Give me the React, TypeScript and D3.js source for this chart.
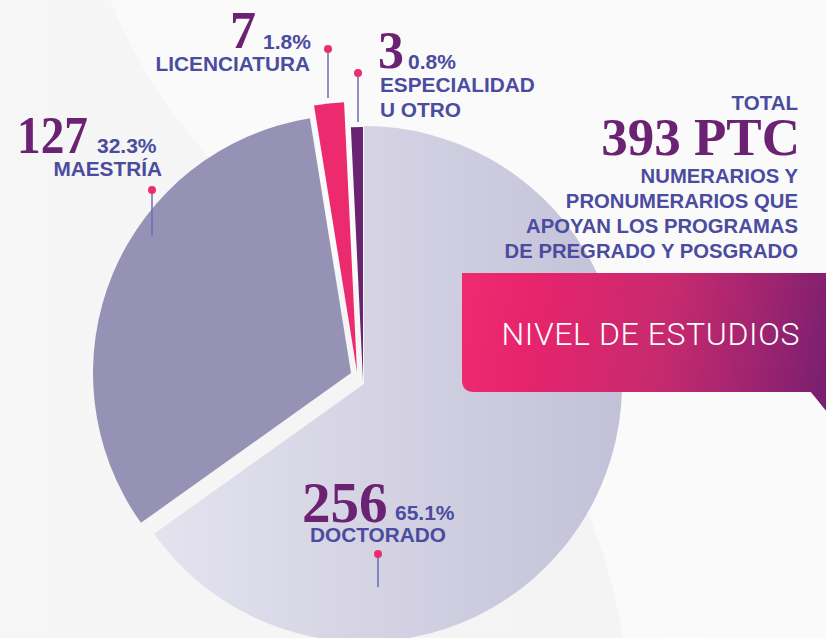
import React from "react";
import * as d3 from "d3";

// ---- data ----
const categories = ["DOCTORADO", "MAESTRÍA", "LICENCIATURA", "ESPECIALIDAD U OTRO"];
const counts = [256, 127, 7, 3];
const percentLabels = ["65.1%", "32.3%", "1.8%", "0.8%"];
const labelLines = [["DOCTORADO"], ["MAESTRÍA"], ["LICENCIATURA"], ["ESPECIALIDAD", "U OTRO"]];
const totalValue = 393;
const totalUnit = "PTC";
const subtitleLines = ["NUMERARIOS Y", "PRONUMERARIOS QUE", "APOYAN LOS PROGRAMAS", "DE PREGRADO Y POSGRADO"];
const titleText = "NIVEL DE ESTUDIOS";

// ---- styles / layout ----
const W = 826;
const H = 638;
const CX = 364;
const CY = 384;
const sliceFills = ["url(#docGrad)", "#9592b6", "#ec2b6e", "#6a2371"];
const sliceOffsets = [
  [0, 0],
  [-13, -11],
  [-7, -12],
  [-1, -4],
];
const sliceRadii = [258, 258, 270, 253];
const NUM = "#6b2272";
const LAB = "#4b4c9f";
const PIN = "#6d6db2";
const DOT = "#ea2d6f";
const SANS = "'Liberation Sans', Arial, sans-serif";
const SERIF = "'Liberation Serif', 'Times New Roman', serif";

type LabelLayout = {
  numX: number; numY: number; numSize: number; numScale: number;
  pctX: number; pctY: number;
  linesX: number; linesY: number; linesAnchor: "start" | "end" | "middle"; lineGap: number;
  pinX: number; pinTop: number; pinBottom: number;
};
const labelLayout: LabelLayout[] = [
  { numX: 302, numY: 522, numSize: 56, numScale: 1.02, pctX: 395, pctY: 520, linesX: 378, linesY: 542, linesAnchor: "middle", lineGap: 25, pinX: 378, pinTop: 554, pinBottom: 587 },
  { numX: 17, numY: 153, numSize: 52, numScale: 0.91, pctX: 97, pctY: 153, linesX: 162, linesY: 176, linesAnchor: "end", lineGap: 25, pinX: 152, pinTop: 190, pinBottom: 236 },
  { numX: 230, numY: 48, numSize: 52, numScale: 1.0, pctX: 263, pctY: 49, linesX: 310, linesY: 71, linesAnchor: "end", lineGap: 25, pinX: 328, pinTop: 49, pinBottom: 98 },
  { numX: 378, numY: 68, numSize: 52, numScale: 1.0, pctX: 408, pctY: 69, linesX: 380, linesY: 92, linesAnchor: "start", lineGap: 25, pinX: 358, pinTop: 73, pinBottom: 122 },
];

export default function App() {
  const pie = d3.pie<number>().sort(null).value((d) => d)(counts);

  return (
    <svg width={W} height={H} style={{ position: "absolute", left: 0, top: 0 }} xmlns="http://www.w3.org/2000/svg">
      <defs>
        <linearGradient id="docGrad" gradientUnits="userSpaceOnUse" x1={150 - CX} y1={0} x2={622 - CX} y2={0}>
          <stop offset="0" stopColor="#e4e3ee" />
          <stop offset="1" stopColor="#c3c1d8" />
        </linearGradient>
        <linearGradient id="boxGrad" gradientUnits="userSpaceOnUse" x1={462} y1={300} x2={826} y2={370}>
          <stop offset="0" stopColor="#ee2b6f" />
          <stop offset="0.2" stopColor="#e6246d" />
          <stop offset="0.55" stopColor="#c72a6e" />
          <stop offset="0.8" stopColor="#a02470" />
          <stop offset="1" stopColor="#7b1f70" />
        </linearGradient>
        <linearGradient id="bgGray" gradientUnits="userSpaceOnUse" x1={0} y1={0} x2={620} y2={0}>
          <stop offset="0" stopColor="#f5f6f5" />
          <stop offset="1" stopColor="#f3f4f3" />
        </linearGradient>
      </defs>

      {/* background */}
      <rect x={0} y={0} width={W} height={H} fill="#fafafa" />
      <path d="M110,0 C170,150 300,260 450,340 C540,400 600,500 623,638 L0,638 L0,0 Z" fill="url(#bgGray)" />
      <path d="M640,440 C655,520 662,580 668,638 L700,638 C690,560 680,500 660,420 Z" fill="#f7f8f7" opacity={0.6} />

      {/* pie */}
      {pie.map((p, i) => {
        const arc = d3.arc<d3.PieArcDatum<number>>().innerRadius(0).outerRadius(sliceRadii[i]);
        return (
          <path
            key={categories[i]}
            d={arc(p) || ""}
            transform={`translate(${CX + sliceOffsets[i][0]},${CY + sliceOffsets[i][1]})`}
            fill={sliceFills[i]}
          />
        );
      })}

      {/* pins */}
      {labelLayout.map((l, i) => (
        <g key={"pin" + i}>
          <line x1={l.pinX} x2={l.pinX} y1={l.pinTop} y2={l.pinBottom} stroke={PIN} strokeWidth={1.5} />
          <circle cx={l.pinX} cy={l.pinTop} r={4} fill={DOT} />
        </g>
      ))}

      {/* labels */}
      {labelLayout.map((l, i) => (
        <g key={"lab" + i}>
          <text
            transform={`translate(${l.numX},${l.numY}) scale(${l.numScale},1)`}
            fontFamily={SERIF}
            fontWeight={700}
            fontSize={l.numSize}
            fill={NUM}
          >
            {counts[i]}
          </text>
          <text x={l.pctX} y={l.pctY} fontFamily={SANS} fontWeight={700} fontSize={21} fill={LAB}>
            {percentLabels[i]}
          </text>
          {labelLines[i].map((s, j) => (
            <text key={j} x={l.linesX} y={l.linesY + j * l.lineGap} textAnchor={l.linesAnchor} fontFamily={SANS} fontWeight={700} fontSize={20.8} fill={LAB}>
              {s}
            </text>
          ))}
        </g>
      ))}

      {/* total block */}
      <text x={798} y={110} textAnchor="end" fontFamily={SANS} fontWeight={700} fontSize={20.5} fill={LAB}>
        TOTAL
      </text>
      <text x={800} y={155} textAnchor="end" fontFamily={SERIF} fontWeight={700} fontSize={53} fill={NUM}>
        {`${totalValue} ${totalUnit}`}
      </text>
      {subtitleLines.map((s, j) => (
        <text key={s} x={798} y={183 + j * 25} textAnchor="end" fontFamily={SANS} fontWeight={700} fontSize={20.3} fill={LAB}>
          {s}
        </text>
      ))}

      {/* title box */}
      <path d="M462,273 L830,273 L830,392 L474,392 Q462,392 462,380 Z" fill="url(#boxGrad)" />
      <path d="M810,391 L827,391 L827,412 Z" fill="#7b1f70" />
      <text x={800} y={345} textAnchor="end" fontFamily="Roboto, sans-serif" fontWeight={300} fontSize={32} letterSpacing={0.6} fill="#ffffff">
        {titleText}
      </text>
    </svg>
  );
}
